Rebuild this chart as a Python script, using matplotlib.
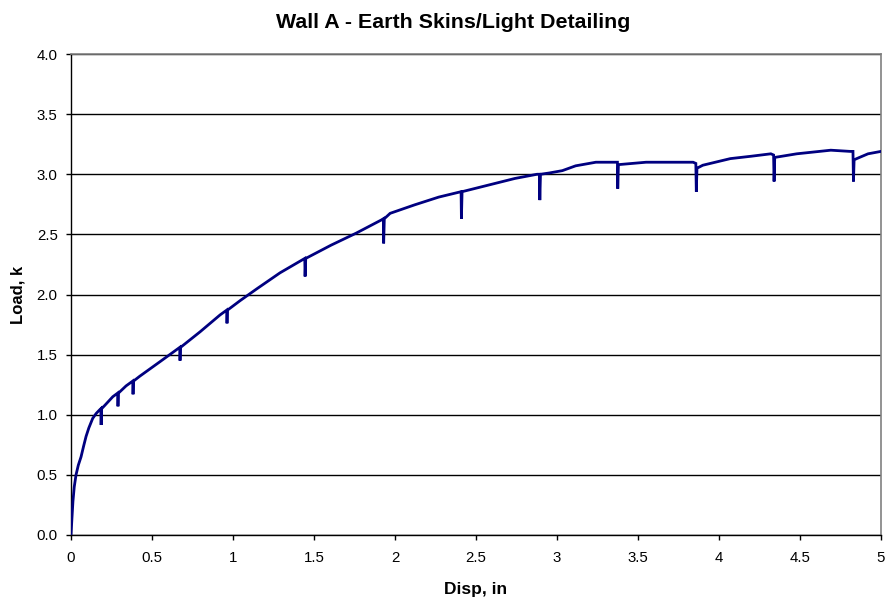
import matplotlib
matplotlib.use("Agg")
import matplotlib.pyplot as plt

plt.rcParams['font.family'] = ['Liberation Sans', 'DejaVu Sans']

disp = [0, 0.005, 0.012, 0.02, 0.031, 0.045, 0.062, 0.078, 0.093, 0.11, 0.134, 0.155,
        0.176, 0.184, 0.186, 0.189, 0.21, 0.258, 0.288, 0.29, 0.293, 0.34, 0.381, 0.383,
        0.386, 0.424, 0.548, 0.671, 0.673, 0.676, 0.797, 0.92, 0.961, 0.963, 0.966, 1.045,
        1.15, 1.29, 1.443, 1.445, 1.449, 1.605, 1.76, 1.916, 1.928, 1.93, 1.934, 1.97,
        2.12, 2.27, 2.408, 2.41, 2.414, 2.577, 2.74, 2.877, 2.891, 2.894, 2.898, 2.95,
        3.033, 3.115, 3.24, 3.373, 3.375, 3.379, 3.55, 3.70, 3.84, 3.857, 3.86, 3.864,
        3.9, 4.07, 4.2, 4.32, 4.337, 4.34, 4.344, 4.48, 4.69, 4.81, 4.827, 4.83, 4.834,
        4.85, 4.92, 5.0]
load = [0, 0.12, 0.28, 0.40, 0.50, 0.58, 0.65, 0.74, 0.82, 0.89, 0.97, 1.01,
        1.04, 1.05, 0.915, 1.05, 1.08, 1.15, 1.18, 1.07, 1.18, 1.24, 1.28, 1.17,
        1.28, 1.32, 1.44, 1.56, 1.45, 1.56, 1.69, 1.83, 1.87, 1.76, 1.87, 1.95,
        2.05, 2.18, 2.30, 2.15, 2.30, 2.41, 2.51, 2.62, 2.63, 2.425, 2.63, 2.675,
        2.745, 2.81, 2.855, 2.63, 2.855, 2.91, 2.965, 3.0, 3.0, 2.785, 3.0, 3.01,
        3.03, 3.07, 3.10, 3.10, 2.88, 3.08, 3.10, 3.10, 3.10, 3.09, 2.855, 3.05,
        3.075, 3.13, 3.15, 3.17, 3.16, 2.94, 3.14, 3.17, 3.20, 3.19, 3.19, 2.94, 3.12,
        3.13, 3.17, 3.19]

x_ticks = [0, 0.5, 1, 1.5, 2, 2.5, 3, 3.5, 4, 4.5, 5]
x_tick_labels = ['0', '0.5', '1', '1.5', '2', '2.5', '3', '3.5', '4', '4.5', '5']
y_ticks = [0.0, 0.5, 1.0, 1.5, 2.0, 2.5, 3.0, 3.5, 4.0]
y_tick_labels = ['0.0', '0.5', '1.0', '1.5', '2.0', '2.5', '3.0', '3.5', '4.0']

fig = plt.figure(figsize=(8.86, 5.99), dpi=100)
ax = fig.add_axes([71/886, 1 - 535/599, (881 - 71)/886, (535 - 54)/599])

ax.plot(disp, load, color='#000080', linewidth=2.0, solid_joinstyle='miter', zorder=3)

ax.set_xlim(0, 5)
ax.set_ylim(0, 4.0)
ax.set_xticks(x_ticks)
ax.set_xticklabels(x_tick_labels)
ax.set_yticks(y_ticks)
ax.set_yticklabels(y_tick_labels)
ax.yaxis.grid(True, color='black', linewidth=1.0)
ax.set_axisbelow(True)

for s in ['left', 'bottom']:
    ax.spines[s].set_color('black')
    ax.spines[s].set_linewidth(1.0)
for s in ['top', 'right']:
    ax.spines[s].set_color('#808080')
    ax.spines[s].set_linewidth(1.2)

ax.tick_params(axis='both', direction='out', length=3.6, width=1, color='black',
               labelsize=10.8, pad=6)
ax.tick_params(axis='x', pad=8)

ax.set_xlabel('Disp, in', fontsize=12.5, fontweight='bold', labelpad=12)
ax.set_ylabel('Load, k', fontsize=12, fontweight='bold', labelpad=8)
fig.suptitle('Wall A - Earth Skins/Light Detailing', fontsize=15.4, fontweight='bold',
             x=453/886, y=1 - 22/599, va='center')

fig.savefig('out.png', dpi=100)
